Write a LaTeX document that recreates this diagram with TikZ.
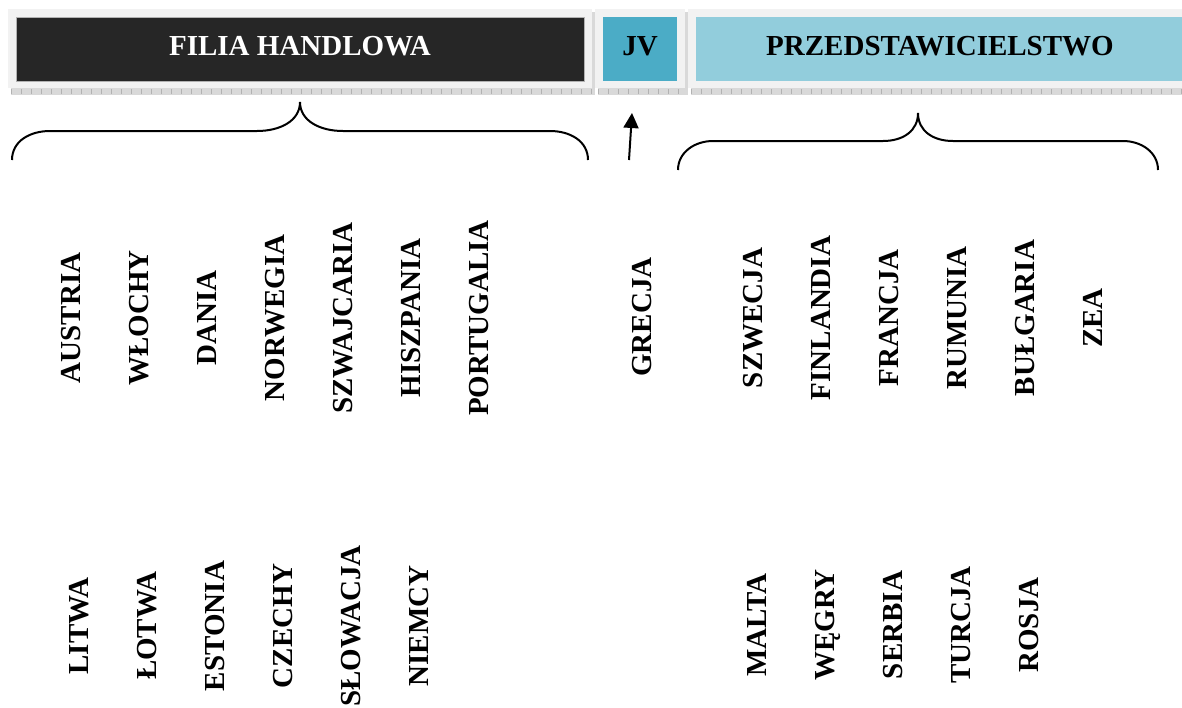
\documentclass[tikz,border=0pt]{standalone}
\usepackage{fontspec}
\setmainfont{Liberation Serif}
\usetikzlibrary{arrows.meta}

\definecolor{ciemny}{HTML}{262626}
\definecolor{turkus}{HTML}{4BACC6}
\definecolor{blekit}{HTML}{92CDDC}
\definecolor{tlo}{HTML}{F2F2F2}

\begin{document}
\begin{tikzpicture}[
    x=1pt, y=-1pt,
    naglowek/.style={rectangle, minimum height=64pt, inner sep=0pt, font=\fontsize{29}{34}\selectfont\bfseries, text height=19.2pt, text depth=7.2pt},
    kraj/.style={rotate=90, inner sep=0pt, font=\fontsize{29}{34}\selectfont\bfseries, text height=19.2pt, text depth=0pt},
    klamra/.style={line width=2pt},
    cien/.style={gray!60, line width=5pt, dash pattern=on 1pt off 9pt}
]
    \useasboundingbox (0,0) rectangle (1182,707);

    % panels behind the headers, with the shaded edge
    \foreach \a/\b in {8/592, 595/685, 688/1190} {
        \fill[tlo] (\a,9) rectangle (\b,88);
        \fill[gray!30] ({\a+3},88) rectangle ({\b+3},95);
        \fill[gray!30] (\b,12) rectangle ({\b+3},95);
        \draw[cien] ({\a+3},91.5) -- ({\b+3},91.5);
    }

    % headers
    \node[naglowek, fill=ciemny, draw=gray!60, text=white, minimum width=568pt] (filia) at (300,49) {FILIA HANDLOWA};
    \node[naglowek, fill=turkus, minimum width=74pt] (jv) at (640,49) {JV};
    \node[naglowek, fill=blekit, minimum width=488pt] (przed) at (940,49) {PRZEDSTAWICIELSTWO};

    % braces
    \draw[klamra] (12,160) .. controls (12,141) and (30,131) .. (50,131) -- (257,131)
        .. controls (280,131) and (300,121) .. (300,102)
        .. controls (300,121) and (320,131) .. (343,131) -- (550,131)
        .. controls (570,131) and (588,141) .. (588,160);
    \draw[klamra] (678,170) .. controls (678,152) and (695,141) .. (713,141) -- (883,141)
        .. controls (903,141) and (918,131) .. (918,113)
        .. controls (918,131) and (933,141) .. (953,141) -- (1123,141)
        .. controls (1141,141) and (1158,152) .. (1158,170);

    % arrow up to JV
    \coordinate (strzalka) at (629,160);
    \coordinate (grot) at (632,113);
    \draw[line width=2pt, -{Triangle[length=15pt,width=15pt]}] (strzalka) -- (grot);

    % countries
    \foreach \nazwa [count=\i] in {AUSTRIA, WŁOCHY, DANIA, NORWEGIA, SZWAJCARIA, HISZPANIA, PORTUGALIA}
        \node[kraj] (fg\i) at ({71+68*(\i-1)},318) {\nazwa};
    \foreach \nazwa [count=\i] in {LITWA, ŁOTWA, ESTONIA, CZECHY, SŁOWACJA, NIEMCY}
        \node[kraj] (fd\i) at ({79+68*(\i-1)},626) {\nazwa};
    \node[kraj] (grecja) at (642,317) {GRECJA};
    \foreach \nazwa [count=\i] in {SZWECJA, FINLANDIA, FRANCJA, RUMUNIA, BUŁGARIA, ZEA}
        \node[kraj] (pg\i) at ({753+68*(\i-1)},318) {\nazwa};
    \foreach \nazwa [count=\i] in {MALTA, WĘGRY, SERBIA, TURCJA, ROSJA}
        \node[kraj] (pd\i) at ({757+68*(\i-1)},625) {\nazwa};
\end{tikzpicture}
\end{document}
